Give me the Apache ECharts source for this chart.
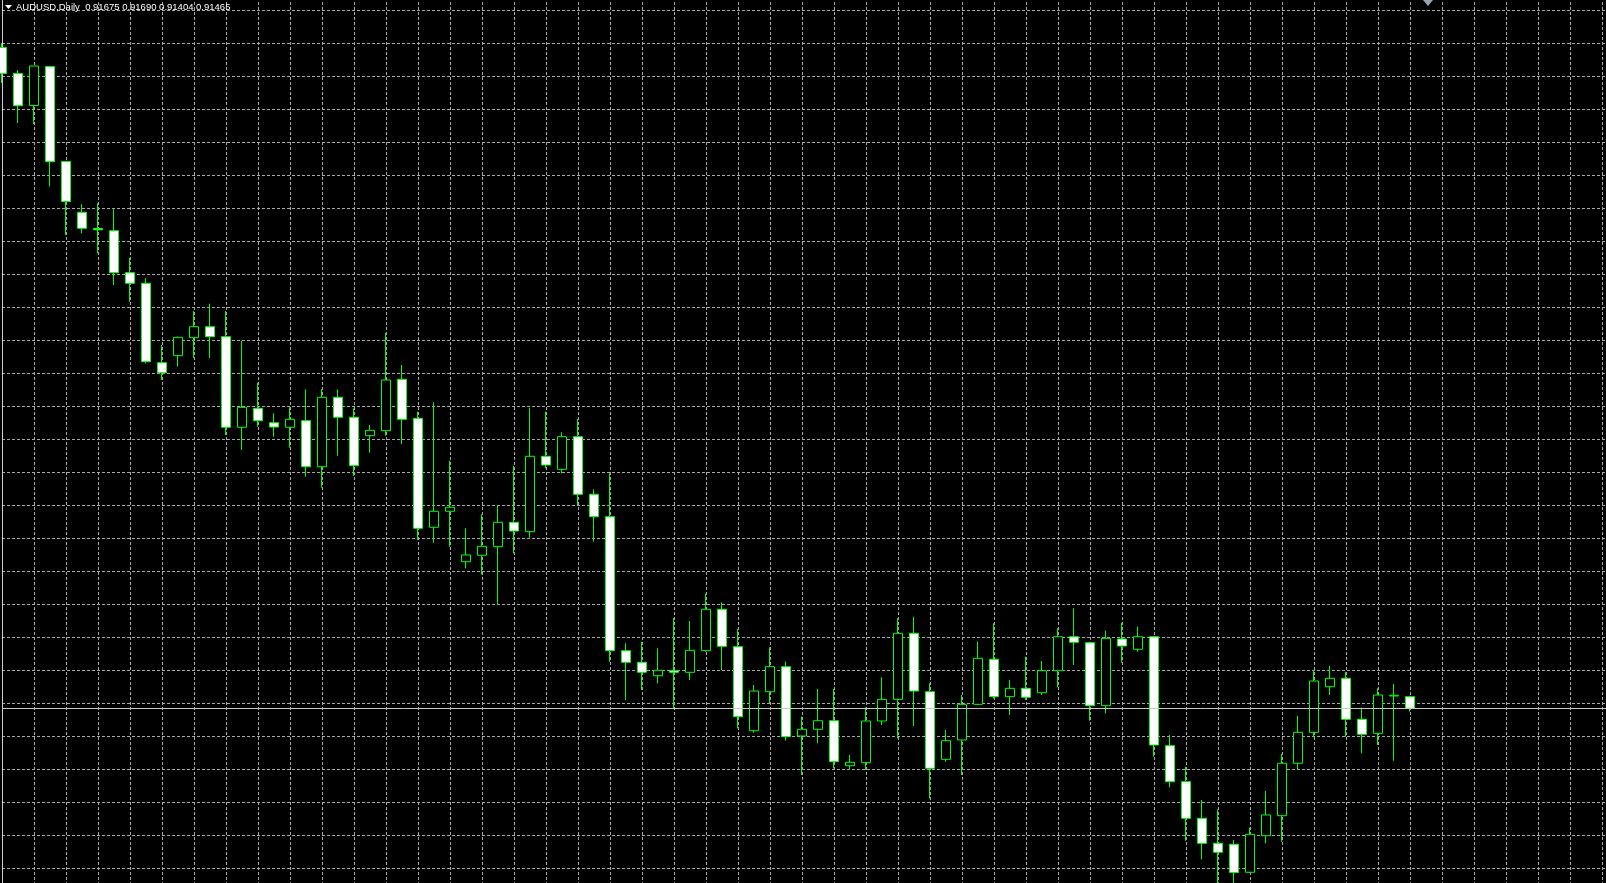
<!DOCTYPE html>
<html>
<head>
<meta charset="utf-8">
<script src="https://cdn.jsdelivr.net/npm/echarts@6/dist/echarts.min.js"></script>
<style>
html,body{margin:0;padding:0;background:#000;}
#chart{width:1606px;height:883px;}
</style>
</head>
<body>
<div id="chart"></div>
<script>
// ---- data ----
const symbolName = 'AUDUSD';
const timeframe = 'Daily';

const openPrices = [
  1.03478, 1.03005, 1.02424, 1.03133, 1.01405, 1.00482, 1.00187, 1.00147, 0.99384, 0.99191,
  0.97747, 0.97875, 0.98202, 0.98402, 0.98220, 0.96573, 0.96918, 0.96656, 0.96573, 0.96693,
  0.95856, 0.97118, 0.96755, 0.96420, 0.96511, 0.97445, 0.96736, 0.94755, 0.95046, 0.94129,
  0.94246, 0.94402, 0.94846, 0.94675, 0.96046, 0.95809, 0.96402, 0.95355, 0.94947, 0.92511,
  0.92300, 0.92056, 0.92147, 0.92118, 0.92511, 0.93264, 0.92584, 0.91056, 0.91765, 0.92220,
  0.90960, 0.91082, 0.91238, 0.90420, 0.90475, 0.91233, 0.91627, 0.92827, 0.91765, 0.90536,
  0.90887, 0.91536, 0.92355, 0.91675, 0.91827, 0.91747, 0.92147, 0.92765, 0.92656, 0.91511,
  0.92724, 0.92536, 0.92765, 0.90784, 0.90129, 0.89464, 0.89009, 0.88991, 0.88482, 0.89147,
  0.89511, 0.90464, 0.91027, 0.91856, 0.92009, 0.91264, 0.91009, 0.91687, 0.91675
];
const highPrices = [
  1.03560, 1.03069, 1.03142, 1.03142, 1.01415, 1.00627, 1.00646, 1.00536, 0.99656, 0.99282,
  0.98069, 0.98220, 0.98687, 0.98820, 0.98687, 0.98147, 0.97384, 0.96827, 0.96936, 0.97264,
  0.97264, 0.97264, 0.96918, 0.96615, 0.98290, 0.97705, 0.96856, 0.97027, 0.95965, 0.94736,
  0.94991, 0.95147, 0.95875, 0.96929, 0.96856, 0.96482, 0.96724, 0.95446, 0.95736, 0.92646,
  0.92675, 0.92555, 0.93105, 0.93051, 0.93547, 0.93387, 0.92900, 0.91887, 0.92573, 0.92311,
  0.91311, 0.91815, 0.91815, 0.90615, 0.91482, 0.92027, 0.93100, 0.93129, 0.91918, 0.91069,
  0.91705, 0.92675, 0.93009, 0.91978, 0.92402, 0.92324, 0.92918, 0.93282, 0.92675, 0.92875,
  0.93020, 0.92947, 0.92778, 0.90978, 0.90402, 0.89796, 0.89624, 0.89069, 0.89293, 0.89960,
  0.90633, 0.91324, 0.92160, 0.92233, 0.92129, 0.91475, 0.91827, 0.91906, 0.91690
];
const lowPrices = [
  1.02833, 1.02106, 1.02087, 1.00951, 1.00069, 1.00100, 0.99736, 0.99160, 0.98856, 0.97736,
  0.97433, 0.97675, 0.97833, 0.97833, 0.96433, 0.96160, 0.96584, 0.96402, 0.96202, 0.95675,
  0.95475, 0.96056, 0.95687, 0.96111, 0.96420, 0.96269, 0.94524, 0.94475, 0.94402, 0.94009,
  0.93896, 0.93342, 0.94282, 0.94566, 0.95827, 0.95736, 0.95160, 0.94493, 0.92311, 0.91615,
  0.91796, 0.91918, 0.91469, 0.91978, 0.92493, 0.92160, 0.91100, 0.91020, 0.91555, 0.90875,
  0.90251, 0.90827, 0.90373, 0.90342, 0.90342, 0.91160, 0.90918, 0.91142, 0.89827, 0.90493,
  0.90251, 0.91524, 0.91645, 0.91342, 0.91615, 0.91705, 0.91845, 0.92251, 0.91238, 0.91373,
  0.92293, 0.92493, 0.90584, 0.90027, 0.89056, 0.88718, 0.88269, 0.88233, 0.88469, 0.89009,
  0.89038, 0.90355, 0.90936, 0.91705, 0.90947, 0.90646, 0.90796, 0.90511, 0.91404
];
const closePrices = [
  1.03005, 1.02420, 1.03142, 1.01402, 1.00678, 1.00191, 1.00164, 0.99384, 0.99191, 0.97765,
  0.97565, 0.98209, 0.98402, 0.98220, 0.96573, 0.96936, 0.96693, 0.96578, 0.96718, 0.95856,
  0.97118, 0.96755, 0.95875, 0.96518, 0.97433, 0.96718, 0.94736, 0.95046, 0.95118, 0.94251,
  0.94409, 0.94846, 0.94687, 0.96046, 0.95887, 0.96402, 0.95355, 0.94947, 0.92511, 0.92300,
  0.92118, 0.92155, 0.92118, 0.92518, 0.93264, 0.92591, 0.91311, 0.91778, 0.92220, 0.90947,
  0.91082, 0.91238, 0.90493, 0.90482, 0.91233, 0.91627, 0.92827, 0.91778, 0.90373, 0.90875,
  0.91536, 0.92373, 0.91675, 0.91827, 0.91664, 0.92147, 0.92765, 0.92664, 0.91511, 0.92736,
  0.92596, 0.92765, 0.90796, 0.90129, 0.89464, 0.89009, 0.88846, 0.88478, 0.89173, 0.89524,
  0.90464, 0.91027, 0.91960, 0.92009, 0.91264, 0.90991, 0.91705, 0.91700, 0.91465
];

// bar slots on the time axis (candles + empty chart shift on the right)
const slotCount = 102;
const barSlots = Array.from({length: slotCount}, (_, i) => 'Bar ' + (i + 1));

// price window of the chart and the number of horizontal grid rows
const priceMin = 0.8796;
const priceMax = 1.0476;
const gridRows = 28;

// ---- build chart ----
const last = closePrices.length - 1;
const bid = closePrices[last];
const fmt = v => v.toFixed(5);
const headerText = symbolName + ',' + timeframe + '  ' +
  [openPrices[last], highPrices[last], lowPrices[last], closePrices[last]].map(fmt).join(' ');

const candleData = openPrices.map((o, i) => [o, closePrices[i], lowPrices[i], highPrices[i]]);

const gridColor = '#a8a8a8';
const lime = '#00ff00';

const chart = echarts.init(document.getElementById('chart'), null, {renderer: 'canvas'});
chart.setOption({
  backgroundColor: '#000000',
  animation: false,
  title: {
    text: headerText,
    left: 16,
    top: 1,
    padding: 0,
    textStyle: {
      color: '#ffffff',
      fontFamily: 'Liberation Sans',
      fontSize: 9.5,
      fontWeight: 'normal',
      lineHeight: 12
    }
  },
  grid: {
    left: 2,
    top: -23,
    width: 16 * (slotCount - 1),
    height: 33 * gridRows,
    containLabel: false,
    outerBoundsMode: 'none'
  },
  xAxis: {
    type: 'category',
    data: barSlots,
    boundaryGap: false,
    axisLine: {show: false},
    axisTick: {show: false},
    axisLabel: {show: false},
    splitLine: {
      show: true,
      interval: 1,
      lineStyle: {color: gridColor, width: 1, type: [3, 2]}
    }
  },
  yAxis: [
    {
      type: 'value',
      min: priceMin,
      max: priceMax,
      position: 'left',
      axisLine: {show: true, onZero: false, lineStyle: {color: '#d0d0d0', width: 1}},
      axisTick: {show: false},
      axisLabel: {show: false},
      splitLine: {show: false}
    },
    {
      type: 'value',
      min: 0,
      max: gridRows,
      interval: 1,
      position: 'right',
      axisLine: {show: false},
      axisTick: {show: false},
      axisLabel: {show: false},
      splitLine: {
        show: true,
        lineStyle: {color: gridColor, width: 1, type: [3, 2]}
      }
    }
  ],
  series: [{
    type: 'candlestick',
    xAxisIndex: 0,
    yAxisIndex: 0,
    data: candleData,
    barWidth: 9,
    clip: true,
    silent: true,
    itemStyle: {
      color: '#000000',
      color0: '#ffffff',
      borderColor: lime,
      borderColor0: lime,
      borderWidth: 1
    },
    emphasis: {disabled: true},
    markLine: {
      silent: true,
      symbol: 'none',
      animation: false,
      precision: 5,
      label: {show: false},
      lineStyle: {color: '#c8c8c8', type: 'solid', width: 1},
      data: [[
        {coord: [0, bid]},
        {coord: [slotCount - 1, bid]}
      ]]
    }
  }],
  graphic: [
    {
      type: 'polygon',
      shape: {points: [[5, 5], [12, 5], [8.5, 9]]},
      style: {fill: '#ffffff'},
      silent: true
    },
    {
      type: 'polygon',
      shape: {points: [[1423, 0], [1433, 0], [1428, 6]]},
      style: {fill: '#9aa4ae'},
      silent: true
    }
  ]
});
</script>
</body>
</html>
